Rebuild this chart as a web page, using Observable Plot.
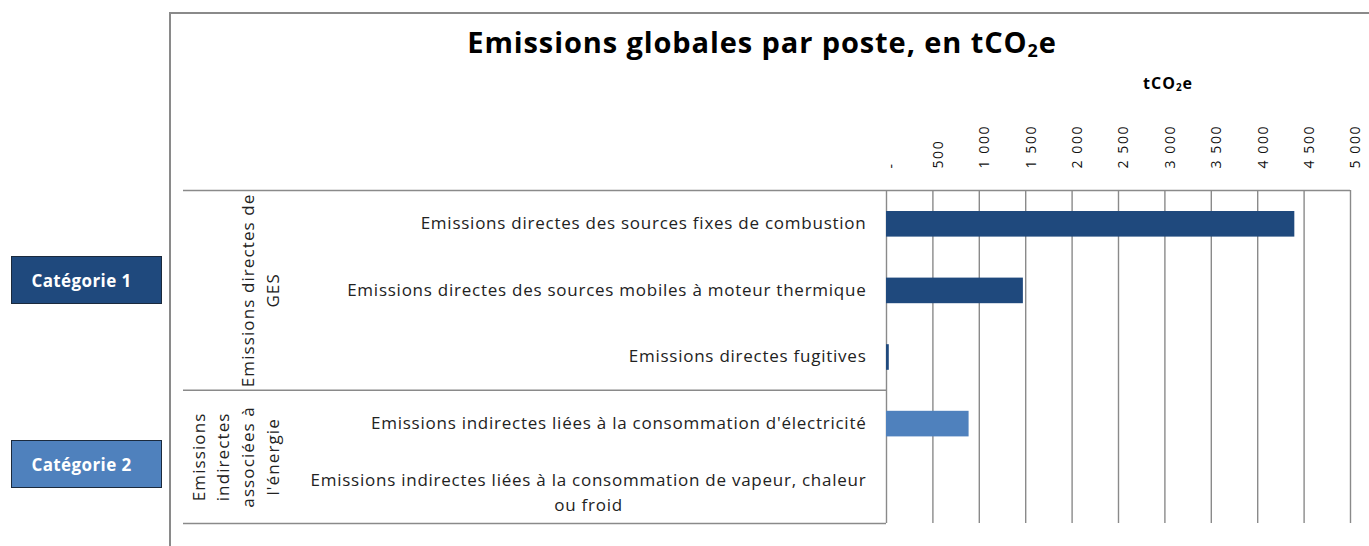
<!DOCTYPE html>
<html><head><meta charset="utf-8">
<script src="https://cdn.jsdelivr.net/npm/d3@7"></script>
<script src="https://cdn.jsdelivr.net/npm/@observablehq/plot@0.6"></script>
<style>
body{margin:0;background:#fff;font-family:"Open Sans",sans-serif;}
#wrap{position:relative;width:1369px;height:546px;overflow:hidden;background:#fff;}
#wrap svg{position:absolute;left:0;top:0;}
#frame{position:absolute;left:169px;top:12px;width:1300px;height:600px;border-left:2px solid #8a8a8a;border-top:2px solid #8a8a8a;box-sizing:border-box;}
#title{position:absolute;left:0;width:1524px;top:27px;text-align:center;font-weight:700;font-size:29px;letter-spacing:0.9px;line-height:1;color:#000;}
#title sub,#unit sub{font-size:0.62em;vertical-align:-0.25em;line-height:0;}
#unit{position:absolute;left:1068px;width:200px;top:72px;text-align:center;font-weight:700;font-size:16px;letter-spacing:1px;color:#000;}
.leg{position:absolute;left:11px;width:151px;height:48px;box-sizing:border-box;padding-right:10px;border:1px solid #1b2a3d;color:#fff;font-weight:700;font-size:17px;letter-spacing:0.4px;display:flex;align-items:center;justify-content:center;}
</style></head>
<body>
<div id="wrap">
  <div id="frame"></div>
  <div id="title">Emissions globales par poste, en tCO<sub>2</sub>e</div>
  <div id="unit">tCO<sub>2</sub>e</div>
</div>
<script>
const categories = [
  "Emissions directes des sources fixes de combustion",
  "Emissions directes des sources mobiles à moteur thermique",
  "Emissions directes fugitives",
  "Emissions indirectes liées à la consommation d'électricité",
  "Emissions indirectes liées à la consommation de vapeur, chaleur\nou froid"
];
const values = [4400, 1475, 30, 890, 0];
const groups = ["Catégorie 1", "Catégorie 1", "Catégorie 1", "Catégorie 2", "Catégorie 2"];
const groupNames = ["Catégorie 1", "Catégorie 2"];
const groupLabels = ["Emissions directes de\nGES", "Emissions\nindirectes\nassociées à\nl'énergie"];
const groupColors = ["#1F497D", "#4F81BD"];
const xTicks = [0, 500, 1000, 1500, 2000, 2500, 3000, 3500, 4000, 4500, 5000];

const rows = categories.map((c, i) => ({c, v: values[i], g: groups[i], i}));
const gData = groupNames.map((g, k) => {
  const idx = rows.filter(r => r.g === g).map(r => r.i);
  return {g, label: groupLabels[k], start: d3.min(idx), end: d3.max(idx) + 1};
});
const boundaries = gData.map(d => d.end);
const fmt = d => d === 0 ? "-" : d3.format(",")(d).replace(/,/g, "\u00a0");
const grid = "#8a8a8a";

const chart = Plot.plot({
  width: 1369,
  height: 546,
  marginLeft: 886,
  marginRight: 19,
  marginTop: 190,
  marginBottom: 23,
  style: {fontFamily: "Open Sans, sans-serif", background: "transparent", overflow: "visible"},
  x: {domain: [0, 5000], axis: null},
  y: {domain: [0, categories.length], reverse: true, axis: null},
  color: {domain: groupNames, range: groupColors},
  marks: [
    Plot.ruleX(xTicks, {x: d => d, stroke: grid, strokeWidth: 1.4}),
    Plot.ruleY([0], {stroke: grid, strokeWidth: 1.6, insetLeft: -703}),
    Plot.ruleY(boundaries, {stroke: grid, strokeWidth: 1.6, insetLeft: -703, insetRight: 464}),
    Plot.rectX(rows, {x1: 0, x2: "v", y1: d => d.i, y2: d => d.i + 1, fill: "g", insetTop: 21, insetBottom: 20}),
    Plot.text(xTicks, {x: d => d, text: fmt, frameAnchor: "top", dy: -22, rotate: -90, textAnchor: "start", fontSize: 14, fill: "#111"}),
    Plot.text(rows.filter(r => !r.c.includes("\n")), {y: d => d.i + 0.5, text: "c", frameAnchor: "left", dx: -20, textAnchor: "end", fontSize: 17, fill: "#222"}),
    Plot.text(rows.filter(r => r.c.includes("\n")), {y: d => d.i + 0.5, text: "c", frameAnchor: "left", dx: -298, textAnchor: "middle", lineHeight: 1.5, fontSize: 17, fill: "#222"}),
    Plot.text(gData, {y: d => (d.start + d.end) / 2, text: "label", frameAnchor: "left", dx: -608, rotate: -90, textAnchor: "middle", lineAnchor: "bottom", lineHeight: 1.45, fontSize: 17, fill: "#222"})
  ]
});
// letter spacing per text mark (in mark order), to mimic the reference's spaced rendering
const spacing = ["1.6px", "0.75px", "0.75px", "1.1px"];
chart.querySelectorAll('g[aria-label="text"]').forEach((g, k) => {
  if (spacing[k]) g.setAttribute("letter-spacing", spacing[k]);
});
const wrap = document.getElementById("wrap");
wrap.appendChild(chart);
groupNames.forEach((g, k) => {
  const d = document.createElement("div");
  d.className = "leg";
  d.style.top = (k === 0 ? 256 : 440) + "px";
  d.style.background = groupColors[k];
  d.textContent = g;
  wrap.appendChild(d);
});
</script>
</body></html>
